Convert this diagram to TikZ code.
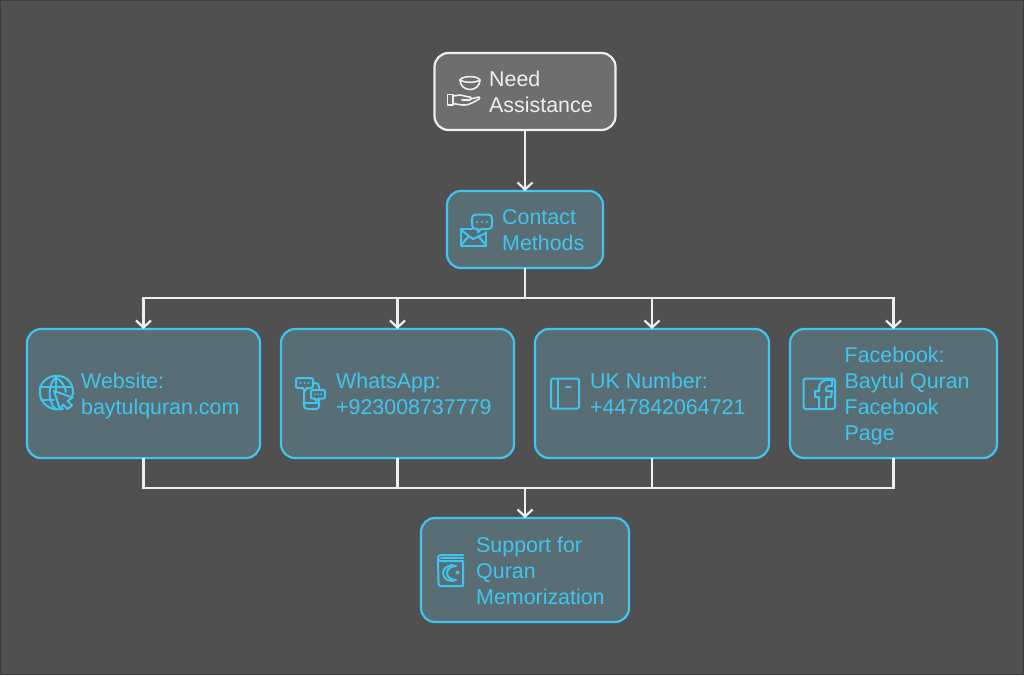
\documentclass[tikz,border=0pt]{standalone}
\usepackage{fontspec}
\setmainfont{Liberation Sans}
\usetikzlibrary{arrows.meta,calc}
\definecolor{bgc}{HTML}{505050}
\definecolor{edgec}{HTML}{3C3C3C}
\definecolor{bluec}{HTML}{3FC5F0}
\definecolor{bluefill}{HTML}{596E74}
\definecolor{greyfill}{HTML}{6E6E6E}
\definecolor{whitec}{HTML}{EFEFEF}
\tikzset{
  x=1pt,y=-1pt,
  box/.style={draw=bluec,fill=bluefill,line width=2.2pt,rounded corners=14pt,outer sep=0pt,inner sep=0pt},
  topbox/.style={box,draw=whitec,fill=greyfill},
  lab/.style={text=bluec,anchor=base west,align=left,inner sep=0pt,font=\fontsize{21.4}{26}\selectfont},
  toplab/.style={lab,text=whitec},
  conn/.style={draw=whitec,line width=2.2pt},
  arr/.style={conn,-{Straight Barb[length=7pt,width=15pt,line width=2.2pt]}},
  ico/.style={draw=bluec,line width=2pt,line join=round,line cap=round},
  icow/.style={ico,draw=whitec,line width=1.6pt},
}
\begin{document}
\begin{tikzpicture}
\useasboundingbox (0,0) rectangle (1024,675);
\fill[edgec] (0,0) rectangle (1024,675);
\fill[bgc] (0.8,0.8) rectangle (1023.2,674.2);
% boxes
\node[topbox,minimum width=181pt,minimum height=77pt] (need) at (525,91.5) {};
\node[box,minimum width=156pt,minimum height=77pt] (contact) at (525,229.5) {};
\node[box,minimum width=233pt,minimum height=129pt] (web) at (143.5,393.5) {};
\node[box,minimum width=233pt,minimum height=129pt] (wa) at (397.5,393.5) {};
\node[box,minimum width=234pt,minimum height=129pt] (uk) at (652,393.5) {};
\node[box,minimum width=207pt,minimum height=129pt] (fb) at (893.5,393.5) {};
\node[box,minimum width=208pt,minimum height=104pt] (sup) at (525,570) {};
% junctions
\coordinate (bustop) at (525,298);
\coordinate (busbot) at (525,488);
% connectors
\draw[arr] (need.south) -- (contact.north);
\draw[arr] (contact.south) -- (bustop) -| (web.north);
\draw[arr] (bustop) -| (wa.north);
\draw[arr] (bustop) -| (uk.north);
\draw[arr] (bustop) -| (fb.north);
\draw[conn] (web.south) |- (busbot);
\draw[conn] (wa.south) |- (busbot);
\draw[conn] (uk.south) |- (busbot);
\draw[conn] (fb.south) |- (busbot);
\draw[arr] (busbot) -- (sup.north);
% labels
\node[toplab] (tneed) at (489,112) {Need\\Assistance};
\node[lab] (tcontact) at (502,250) {Contact\\Methods};
\node[lab] (tweb) at (81,414) {Website:\\baytulquran.com};
\node[lab] (twa) at (336,414) {WhatsApp:\\+923008737779};
\node[lab] (tuk) at (590,414) {UK Number:\\+447842064721};
\node[lab] (tfb) at (844.5,440) {Facebook:\\Baytul Quran\\Facebook\\Page};
\node[lab] (tsup) at (476,604) {Support for\\Quran\\Memorization};
% hand and bowl icon
\draw[icow] (460,80) .. controls (462,75.5) and (478,75.5) .. (480,80) .. controls (476,83) and (464,83) .. (460,80) -- cycle;
\draw[icow] (460,80) .. controls (460,86) and (465,89.5) .. (470,89.5) .. controls (475,89.5) and (480,86) .. (480,80);
\draw[icow] (447.5,94.5) rectangle (453,105);
\draw[icow] (453,96) -- (460,95) .. controls (463,95) and (466,97) .. (470,97) .. controls (472,97) and (472,100) .. (470,100) -- (462,100)
  (470,99) -- (479,97) .. controls (480,97) and (480,99) .. (479,99) .. controls (474,102) and (468,106) .. (462,105) -- (453,103.5);
% envelope and bubble icon
\draw[ico] (472,229) -- (461,229) -- (461,245.5) -- (486,245.5) -- (486,232);
\draw[ico] (461,230) -- (473,239) -- (486,233);
\draw[ico] (461,245) -- (469,236);
\draw[ico] (486,245) -- (478,236);
\draw[ico] (476,214.5) -- (488,214.5) .. controls (491,214.5) and (492,216) .. (492,219) -- (492,225) .. controls (492,228) and (491,229) .. (488,229) -- (481,229) -- (478,232.5) -- (478,229) .. controls (474,229) and (472,228) .. (472,225) -- (472,219) .. controls (472,216) and (473,214.5) .. (476,214.5) -- cycle;
\foreach \px in {477,482,487}{\fill[bluec] (\px,222) circle (1.2pt);}
% globe and cursor icon
\draw[ico] (63,409) .. controls (57,410) and (51,409) .. (47,406) .. controls (39,400) and (37,388) .. (44,381) .. controls (51,374) and (63,374) .. (69,381) .. controls (73,385) and (74,392) .. (72,397);
\draw[ico] (56,377.5) .. controls (48,383) and (47,402) .. (56,409.5);
\draw[ico] (56,377.5) .. controls (61,380) and (65,386) .. (66,392);
\draw[ico] (56,377.5) -- (56,390);
\draw[ico] (40,387) -- (72,387) (41,400) -- (54,400);
\draw[ico,fill=bluefill] (54,391) -- (72.5,397.5) -- (67.5,401) -- (72,405.5) -- (67.5,409) -- (63,404.5) -- (60,409.5) -- cycle;
% phone and chat icon
\draw[ico] (310,383) -- (316,383) .. controls (318,383) and (319,385) .. (319,387) -- (319,390);
\draw[ico] (319,400) -- (319,406) .. controls (319,408) and (318,409) .. (316,409) -- (308,409) .. controls (306,409) and (304,408) .. (304,406) -- (304,391);
\draw[ico] (304,403) -- (319,403);
\draw[ico,fill=bluefill] (298,378) -- (311,378) .. controls (313,378) and (313,379) .. (313,381) -- (313,385) .. controls (313,388) and (312,388) .. (311,388) -- (307,388) -- (304.5,391) -- (303,388) -- (298,388) .. controls (296,388) and (296,387) .. (296,385) -- (296,381) .. controls (296,379) and (296,378) .. (298,378) -- cycle;
\draw[ico,fill=bluefill] (313,390) -- (323,390) .. controls (325,390) and (325,391) .. (325,393) -- (325,396) .. controls (325,398) and (325,398.5) .. (323,398.5) -- (319,398.5) -- (316,401) -- (315,398.5) -- (313,398.5) .. controls (311,398.5) and (311,398) .. (311,396) -- (311,393) .. controls (311,391) and (311,390) .. (313,390) -- cycle;
\foreach \px in {300.5,304.5,308.5}{\fill[bluec] (\px,383) circle (1.1pt);}
\foreach \px in {315,318,321}{\fill[bluec] (\px,394) circle (1pt);}
% notebook icon
\draw[ico,rounded corners=1.5pt] (551,378.5) rectangle (579,408.5);
\draw[ico] (557.5,378.5) -- (557.5,408.5);
\draw[ico] (566,386.5) -- (570.5,386.5);
% facebook icon
\draw[ico] (826,409) -- (806,409) .. controls (804.5,409) and (803.5,408) .. (803.5,406.5) -- (803.5,381) .. controls (803.5,379.5) and (804.5,378.5) .. (806,378.5) -- (832,378.5) .. controls (834,378.5) and (835,379.5) .. (835,381) -- (835,406.5) .. controls (835,408) and (834,409) .. (832,409) -- (826,409);
\draw[ico] (826,409) -- (826,397) -- (831,397) -- (832,391) -- (826,391) -- (826,389) .. controls (826,387) and (827,386) .. (829,386) -- (832,386) -- (832,380) -- (827,380) .. controls (822,380) and (819,384) .. (819,388) -- (819,391) -- (815,391) -- (815,397) -- (819,397) -- (819,409);
% book and crescent icon
\draw[ico] (438,558) .. controls (438,556) and (439,555) .. (441,555) -- (463,555);
\draw[ico] (438,558) .. controls (438,560) and (439,561) .. (441,561) -- (463,561) -- (463,586) -- (441,586) .. controls (439,586) and (438.5,585) .. (438.5,583) -- (438,558);
\draw[ico] (441,558) -- (463,558);
\draw[ico] (456,566) .. controls (450,563) and (443,568) .. (443,573) .. controls (443,579) and (450,583) .. (456,580) .. controls (451,580) and (447,577) .. (447,573) .. controls (447,569) and (451,566) .. (456,566) -- cycle;
\draw[ico,line width=1.2pt] (456,571) -- (459,574) (459,571) -- (456,574);
\end{tikzpicture}
\end{document}
